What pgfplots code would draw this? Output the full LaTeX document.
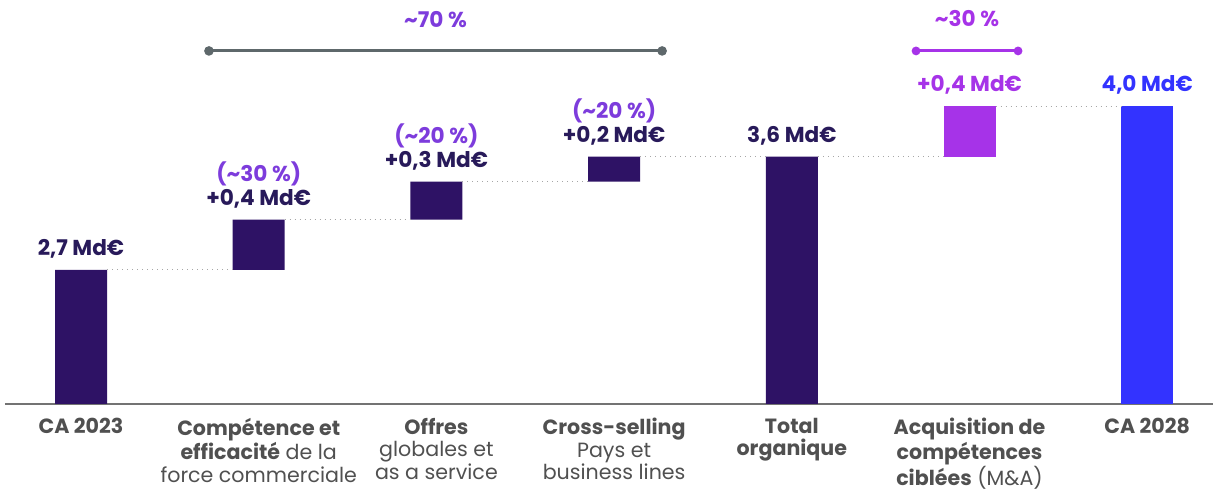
\documentclass[border=0pt]{standalone}
\usepackage{pgfplots}
\pgfplotsset{compat=1.18}
\usepackage{fontspec}
\setmainfont{Poppins}
\definecolor{darkbar}{RGB}{46,18,101}
\definecolor{mabar}{RGB}{166,51,232}
\definecolor{bluebar}{RGB}{51,51,255}
\definecolor{pcttext}{RGB}{125,60,220}
\definecolor{darktext}{RGB}{40,26,90}
\definecolor{ticktext}{RGB}{80,80,80}
\definecolor{brgray}{RGB}{94,104,107}
\begin{document}
\begin{tikzpicture}
\pgfplotsset{
  wf/.style={
    width=604pt, height=202pt, scale only axis,
    xmin=-0.4277, xmax=6.370, ymin=1.636, ymax=4.8423,
  }
}
% bars
\begin{axis}[wf,
  ybar stacked, bar width=26pt,
  axis x line*=bottom, axis y line=none,
  x axis line style={draw=ticktext!80, line width=1pt, -},
  ytick=\empty,
  xtick={0,...,6}, major tick length=0pt,
  xticklabels={
    \textbf{CA 2023},
    {\textbf{Compétence et}\\\textbf{efficacité} de la\\force commerciale},
    {\textbf{Offres}\\globales et\\as a service},
    {\textbf{Cross-selling}\\Pays et\\business lines},
    {\textbf{Total}\\\textbf{organique}},
    {\textbf{Acquisition de}\\\textbf{compétences}\\\textbf{ciblées} (M\&A)},
    \textbf{CA 2028}},
  xticklabel style={align=center, anchor=north, inner sep=0pt, yshift=-6.8pt,
    font=\fontsize{10.3}{11.3}\selectfont, text=ticktext},
]
\addplot[draw=none, fill=none] coordinates {(0,0) (1,2.7) (2,3.1) (3,3.4) (4,0) (5,3.6) (6,0)};
\addplot[draw=none, fill=darkbar] coordinates {(0,2.7) (1,0.4) (2,0.3) (3,0.2) (4,3.6) (5,0) (6,0)};
\addplot[draw=none, fill=mabar] coordinates {(0,0) (1,0) (2,0) (3,0) (4,0) (5,0.4) (6,0)};
\addplot[draw=none, fill=bluebar] coordinates {(0,0) (1,0) (2,0) (3,0) (4,0) (5,0) (6,4.0)};
\end{axis}
% connectors, brackets, labels
\begin{axis}[wf, axis lines=none, clip=false]
\addplot[gray!70, dotted, line width=0.5pt] coordinates {(0.1465,2.7) (0.8535,2.7)};
\addplot[gray!70, dotted, line width=0.5pt] coordinates {(1.1465,3.1) (1.8535,3.1)};
\addplot[gray!70, dotted, line width=0.5pt] coordinates {(2.1465,3.4) (2.8535,3.4)};
\addplot[gray!70, dotted, line width=0.5pt] coordinates {(3.1465,3.6) (3.8535,3.6)};
\addplot[gray!70, dotted, line width=0.5pt] coordinates {(4.1465,3.6) (4.8535,3.6)};
\addplot[gray!70, dotted, line width=0.5pt] coordinates {(5.1465,4.0) (5.8535,4.0)};
\addplot[brgray, line width=1.5pt, mark=*, mark size=1.6pt] coordinates {(0.720,4.438) (3.270,4.438)};
\addplot[mabar, line width=1.5pt, mark=*, mark size=1.4pt] coordinates {(4.699,4.438) (5.273,4.438)};
\tikzset{lab/.style={anchor=base, inner sep=0pt, font=\fontsize{10.8}{12}\selectfont\bfseries}}
\node[lab, text=pcttext] at (axis cs:1.995,4.620) {\textasciitilde70 \%};
\node[lab, text=mabar] at (axis cs:4.986,4.628) {\textasciitilde30 \%};
\node[lab, text=darktext] at (axis cs:0,2.815) {2,7 Md€};
\node[lab, text=darktext] at (axis cs:1,3.215) {+0,4 Md€};
\node[lab, text=pcttext] at (axis cs:1,3.405) {(\textasciitilde30 \%)};
\node[lab, text=darktext] at (axis cs:2,3.515) {+0,3 Md€};
\node[lab, text=pcttext] at (axis cs:2,3.705) {(\textasciitilde20 \%)};
\node[lab, text=darktext] at (axis cs:3,3.715) {+0,2 Md€};
\node[lab, text=pcttext] at (axis cs:3,3.905) {(\textasciitilde20 \%)};
\node[lab, text=darktext] at (axis cs:4,3.715) {3,6 Md€};
\node[lab, text=mabar] at (axis cs:5,4.115) {+0,4 Md€};
\node[lab, text=bluebar] at (axis cs:6,4.115) {4,0 Md€};
\path (rel axis cs:-0.00414,-0.2130) (rel axis cs:1.00166,1);
\end{axis}
\end{tikzpicture}
\end{document}
